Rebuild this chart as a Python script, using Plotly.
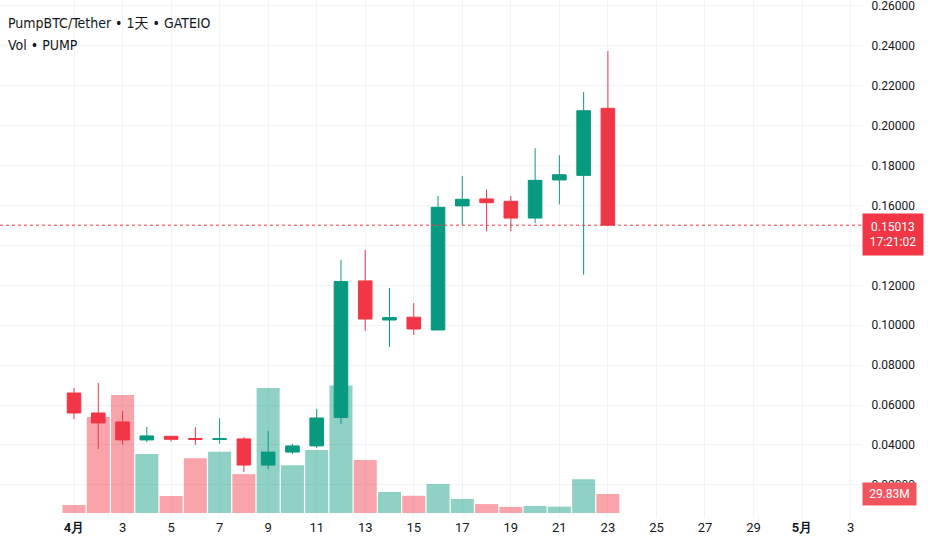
import plotly.graph_objects as go

# daily candles, April 2025 (PUMP/USDT)
dates = [f"2025-04-{d:02d}" for d in range(1, 24)]
opens = [0.0660, 0.0560, 0.0515, 0.0425, 0.0443, 0.0432, 0.0427, 0.0430, 0.0299, 0.0364, 0.0395,
         0.0537, 0.1222, 0.1026, 0.1040, 0.0976, 0.1598, 0.1633, 0.1621, 0.1537, 0.1728, 0.1751, 0.2087]
highs = [0.0685, 0.0710, 0.0570, 0.0490, 0.0443, 0.0489, 0.0533, 0.0440, 0.0470, 0.0405, 0.0580,
         0.1327, 0.1377, 0.1187, 0.1111, 0.1648, 0.1748, 0.1681, 0.1648, 0.1887, 0.1852, 0.2169, 0.2374]
lows = [0.0530, 0.0379, 0.0400, 0.0415, 0.0417, 0.0400, 0.0406, 0.0264, 0.0279, 0.0354, 0.0385,
        0.0505, 0.0971, 0.0891, 0.0951, 0.0975, 0.1502, 0.1471, 0.1471, 0.1512, 0.1606, 0.1253, 0.1498]
closes = [0.0560, 0.0510, 0.0425, 0.0445, 0.0428, 0.0428, 0.0431, 0.0299, 0.0364, 0.0395, 0.0535,
          0.1219, 0.1031, 0.1038, 0.0981, 0.1591, 0.1631, 0.1614, 0.1537, 0.1726, 0.1754, 0.2075, 0.15013]
volumes = [12.6, 150.7, 185.0, 92.6, 26.7, 86.0, 96.0, 61.0, 196.0, 75.0, 99.0,
           200.0, 83.0, 33.0, 27.0, 45.5, 22.0, 14.0, 9.5, 11.0, 10.0, 53.0, 29.83]  # millions

tick_dates = ["2025-04-01", "2025-04-03", "2025-04-05", "2025-04-07", "2025-04-09", "2025-04-11",
              "2025-04-13", "2025-04-15", "2025-04-17", "2025-04-19", "2025-04-21", "2025-04-23",
              "2025-04-25", "2025-04-27", "2025-04-29", "2025-05-01", "2025-05-03"]
tick_text = ["<b>4月</b>", "3", "5", "7", "9", "11", "13", "15", "17", "19", "21", "23",
             "25", "27", "29", "<b>5月</b>", "3"]
price_ticks = [0.02, 0.04, 0.06, 0.08, 0.10, 0.12, 0.14, 0.16, 0.18, 0.20, 0.22, 0.24, 0.26]

UP = "#089981"
DOWN = "#F23645"
GRID = "#f0f3fa"
TEXT = "#131722"

vol_colors = ["rgba(8,153,129,0.45)" if c >= o else "rgba(242,54,69,0.45)"
              for o, c in zip(opens, closes)]

fig = go.Figure()

# volume sits on the base axis so the candles draw over it
fig.add_trace(go.Bar(
    x=dates, y=volumes, marker_color=vol_colors, marker_line_width=0,
    yaxis="y", showlegend=False, hoverinfo="skip",
))

fig.add_trace(go.Candlestick(
    x=dates, open=opens, high=highs, low=lows, close=closes,
    increasing=dict(line=dict(color=UP, width=1), fillcolor=UP),
    decreasing=dict(line=dict(color=DOWN, width=1), fillcolor=DOWN),
    whiskerwidth=0, yaxis="y2", showlegend=False,
))

last_close = closes[-1]
last_vol = volumes[-1]

fig.add_shape(type="line", xref="paper", x0=0, x1=1, yref="y2", y0=last_close, y1=last_close,
              line=dict(color=DOWN, width=1, dash="dot"))

fig.add_annotation(xref="paper", x=1.0, xanchor="left", yref="y2", y=last_close, yanchor="top",
                   yshift=12, text=f"{last_close:.5f}<br>17:21:02", showarrow=False, align="center",
                   width=56, height=37, bgcolor=DOWN, borderpad=2,
                   font=dict(family="Roboto", size=12, color="white"))
fig.add_annotation(xref="paper", x=1.0, xanchor="left", yref="y", y=last_vol, yanchor="middle",
                   text=f"{last_vol:.2f}M", showarrow=False, align="center",
                   width=49, height=18, bgcolor="#f0555f", borderpad=2,
                   font=dict(family="Roboto", size=12, color="white"))

legend_font = dict(family="Liberation Sans Narrow, DejaVu Sans Condensed, Noto Sans CJK SC",
                   size=14, color=TEXT)
fig.add_annotation(xref="paper", yref="paper", x=0.0, y=1.0, xanchor="left", yanchor="middle",
                   xshift=6, yshift=-23, showarrow=False,
                   text="PumpBTC/Tether • 1天 • GATEIO", font=legend_font)
fig.add_annotation(xref="paper", yref="paper", x=0.0, y=1.0, xanchor="left", yanchor="middle",
                   xshift=6, yshift=-45, showarrow=False,
                   text="Vol • PUMP", font=legend_font)

fig.update_layout(
    width=932, height=550,
    margin=dict(l=0, r=70, t=0, b=32, autoexpand=False),
    paper_bgcolor="white", plot_bgcolor="white",
    bargap=0.05, boxgap=0.2, hovermode=False,
    xaxis=dict(
        type="date", range=["2025-03-28 22:48", "2025-05-03 11:17"],
        tickvals=tick_dates, ticktext=tick_text, automargin=False,
        showgrid=True, gridcolor=GRID, gridwidth=1, zeroline=False,
        showline=False, ticks="", rangeslider=dict(visible=False),
        tickfont=dict(family="Roboto", size=13, color=TEXT),
    ),
    yaxis=dict(range=[-7.85, 805], visible=False, showgrid=False, fixedrange=True),
    yaxis2=dict(
        overlaying="y", side="right", range=[0.00336, 0.263], automargin=False,
        tickvals=price_ticks, tickformat=".5f", ticklabeloverflow="allow",
        showgrid=True, gridcolor=GRID, gridwidth=1, zeroline=False, showline=False,
        ticks="outside", ticklen=6, tickcolor="rgba(0,0,0,0)",
        tickfont=dict(family="Roboto", size=12, color=TEXT),
    ),
    font=dict(family="Roboto", color=TEXT),
)

# the page body has a default margin; drop it so the chart sits flush in the window
fig.write_html("out.html", config={"displayModeBar": False},
               post_script="document.body.style.margin='0px';")
